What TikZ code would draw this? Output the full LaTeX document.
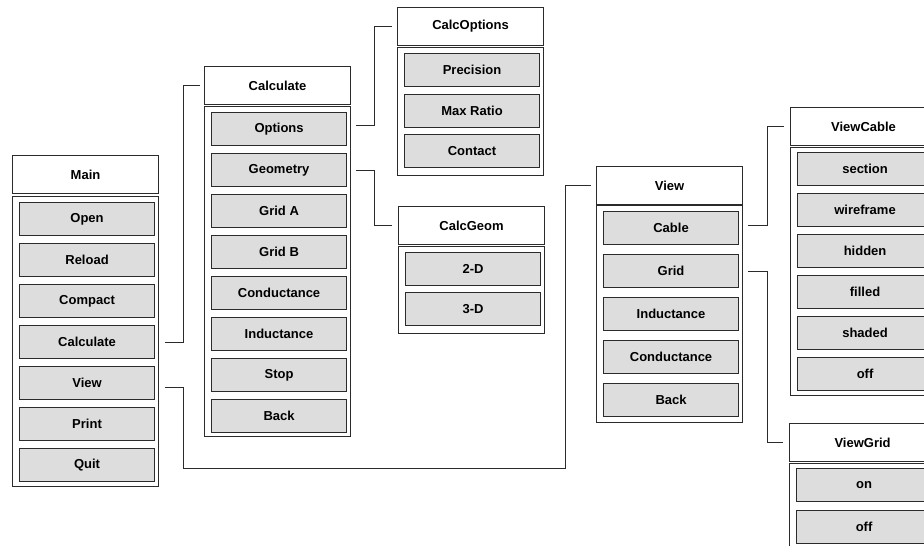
\documentclass[tikz,border=0pt]{standalone}
\usepackage{fontspec}
\setmainfont{Liberation Sans}
\usetikzlibrary{positioning}
\definecolor{BtnGray}{HTML}{DDDDDD}
\definecolor{EdgeDark}{HTML}{2B2B2B}
\tikzset{
  menutitle/.style={
    rectangle, draw=EdgeDark, fill=white, line width=1.1pt, inner sep=0pt,
    minimum width=146pt, minimum height=38pt, anchor=north west,
    font=\fontsize{13}{15}\selectfont\bfseries
  },
  menubody/.style={rectangle, draw=EdgeDark, line width=1.1pt, minimum width=146pt, anchor=north west},
  menubtn/.style={
    rectangle, draw=EdgeDark, fill=BtnGray, line width=1.1pt, inner sep=0pt,
    minimum width=135pt, minimum height=33pt, anchor=north west,
    font=\fontsize{13}{15}\selectfont\bfseries
  },
  menulink/.style={draw=EdgeDark, line width=1pt},
}
\begin{document}
\begin{tikzpicture}[x=1pt, y=-1pt]
    \useasboundingbox (0,0) rectangle (924,546);
    \clip (0,0) rectangle (924,546);
    % Main
    \node[menutitle] (main) at (12,155) {Main};
    \node[menubody, minimum height=290pt] (main-body) at (12,196) {};
    \node[menubtn] (main-open) at (19,202) {Open};
    \node[menubtn] (main-reload) at (19,243) {Reload};
    \node[menubtn] (main-compact) at (19,284) {Compact};
    \node[menubtn] (main-calc) at (19,325) {Calculate};
    \node[menubtn] (main-view) at (19,366) {View};
    \node[menubtn] (main-print) at (19,407) {Print};
    \node[menubtn] (main-quit) at (19,448) {Quit};
    % Calculate
    \node[menutitle] (calc) at (204,66) {Calculate};
    \node[menubody, minimum height=330pt] (calc-body) at (204,106) {};
    \node[menubtn] (calc-opt) at (211,112) {Options};
    \node[menubtn] (calc-geom) at (211,153) {Geometry};
    \node[menubtn] (calc-grida) at (211,194) {Grid A};
    \node[menubtn] (calc-gridb) at (211,235) {Grid B};
    \node[menubtn] (calc-cond) at (211,276) {Conductance};
    \node[menubtn] (calc-ind) at (211,317) {Inductance};
    \node[menubtn] (calc-stop) at (211,358) {Stop};
    \node[menubtn] (calc-back) at (211,399) {Back};
    % CalcOptions
    \node[menutitle] (copt) at (397,7) {CalcOptions};
    \node[menubody, minimum height=128pt] (copt-body) at (397,47) {};
    \node[menubtn] (copt-prec) at (404,53) {Precision};
    \node[menubtn] (copt-ratio) at (404,94) {Max Ratio};
    \node[menubtn] (copt-cont) at (404,134) {Contact};
    % CalcGeom
    \node[menutitle] (cgeom) at (398,206) {CalcGeom};
    \node[menubody, minimum height=87pt] (cgeom-body) at (398,246) {};
    \node[menubtn] (cgeom-2d) at (405,252) {2-D};
    \node[menubtn] (cgeom-3d) at (405,292) {3-D};
    % View
    \node[menutitle] (view) at (596,166) {View};
    \node[menubody, minimum height=217pt] (view-body) at (596,205) {};
    \node[menubtn] (view-cable) at (603,211) {Cable};
    \node[menubtn] (view-grid) at (603,254) {Grid};
    \node[menubtn] (view-ind) at (603,297) {Inductance};
    \node[menubtn] (view-cond) at (603,340) {Conductance};
    \node[menubtn] (view-back) at (603,383) {Back};
    % ViewCable
    \node[menutitle] (vcab) at (790,107) {ViewCable};
    \node[menubody, minimum height=248pt] (vcab-body) at (790,147) {};
    \node[menubtn] (vcab-sec) at (797,152) {section};
    \node[menubtn] (vcab-wire) at (797,193) {wireframe};
    \node[menubtn] (vcab-hid) at (797,234) {hidden};
    \node[menubtn] (vcab-fill) at (797,275) {filled};
    \node[menubtn] (vcab-shade) at (797,316) {shaded};
    \node[menubtn] (vcab-off) at (797,357) {off};
    % ViewGrid
    \node[menutitle] (vgrid) at (789,423) {ViewGrid};
    \node[menubody, minimum height=90pt] (vgrid-body) at (789,463) {};
    \node[menubtn] (vgrid-on) at (796,468) {on};
    \node[menubtn] (vgrid-off) at (796,510) {off};
    % links
    \draw[menulink] ([xshift=6pt]main-body.east |- main-calc.east) -- ++(18,0) |- ([xshift=-4pt]calc.west);
    \draw[menulink] ([xshift=6pt,yshift=-4pt]main-body.east |- main-view.east) -| ++(18,81) -| ([xshift=-31pt]view.west) -- ([xshift=-5pt]view.west);
    \draw[menulink] ([xshift=5pt,yshift=4pt]calc-body.east |- calc-opt.east) -- ++(18,0) |- ([xshift=-5pt]copt.west);
    \draw[menulink] ([xshift=5pt]calc-body.east |- calc-geom.east) -- ++(18,0) |- ([xshift=-6pt]cgeom.west);
    \draw[menulink] ([xshift=5pt,yshift=3pt]view-body.east |- view-cable.east) -- ++(19,0) |- ([xshift=-6pt]vcab.west);
    \draw[menulink] ([xshift=5pt]view-body.east |- view-grid.east) -- ++(19,0) |- ([xshift=-6pt]vgrid.west);
\end{tikzpicture}
\end{document}
